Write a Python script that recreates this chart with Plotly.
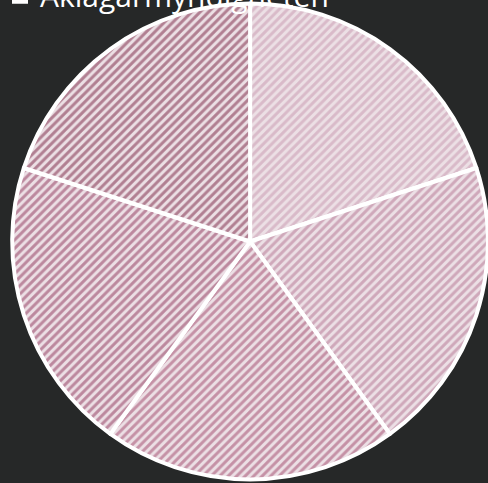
import plotly.graph_objects as go

labels = ["Polismyndigheten", "Kriminalvården", "Domstolsverket", "Kustbevakningen", "Åklagarmyndigheten"]
values = [20, 20, 20, 20, 20]
fg_colors = ["#c595ad", "#b27290", "#9e4468", "#8c3158", "#76203f"]
bg_color = "#ecdfe5"

fig = go.Figure(go.Pie(
    labels=labels,
    values=values,
    sort=False,
    direction="clockwise",
    rotation=0,
    textinfo="none",
    hoverinfo="label+percent",
    marker=dict(
        colors=[bg_color] * 5,
        line=dict(color="white", width=4),
        pattern=dict(shape="/", fgcolor=fg_colors, bgcolor=[bg_color] * 5,
                     size=6, solidity=0.5, fillmode="overlay"),
    ),
    domain=dict(x=[0.025, 1], y=[0, 1]),
))

fig.update_layout(
    width=488, height=483,
    paper_bgcolor="#262828",
    plot_bgcolor="#262828",
    margin=dict(l=0, r=0, t=0, b=0, autoexpand=False),
    showlegend=True,
    legend=dict(
        x=0.0, xanchor="left", y=0.955, yanchor="bottom",
        orientation="v",
        font=dict(family="Open Sans", size=30, color="white"),
        bgcolor="rgba(0,0,0,0)",
    ),
)

fig.write_html("out.html", config={"displayModeBar": False},
               post_script="document.body.style.margin='0';document.body.style.background='#262828';")
